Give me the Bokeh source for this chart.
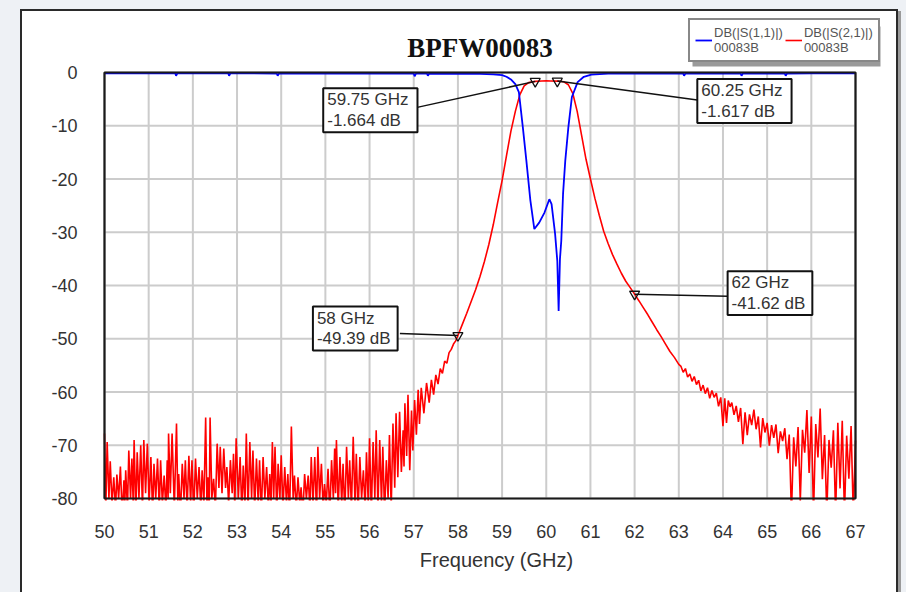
from bokeh.plotting import figure
from bokeh.models import Label, Legend, LegendItem, BoxAnnotation, FixedTicker, Range1d, Spacer
from bokeh.layouts import row, column
from bokeh.embed import file_html
from bokeh.resources import INLINE

# ---------------- data ----------------
chart_title = "BPFW00083"
x_label = "Frequency (GHz)"
x_ticks = [50, 51, 52, 53, 54, 55, 56, 57, 58, 59, 60, 61, 62, 63, 64, 65, 66, 67]
y_ticks = [0, -10, -20, -30, -40, -50, -60, -70, -80]

s11_name = "DB(|S(1,1)|)\n00083B"
s21_name = "DB(|S(2,1)|)\n00083B"

# S21 - lower noise floor
s21_floor_f = [
    50.00, 50.03, 50.06, 50.10, 50.13, 50.17, 50.21, 50.25, 50.28, 50.32, 50.36, 50.40, 50.44, 50.46,
    50.48, 50.52, 50.55, 50.59, 50.62, 50.65, 50.67, 50.71, 50.74, 50.78, 50.82, 50.86, 50.89, 50.93,
    50.97, 51.01, 51.05, 51.09, 51.12, 51.16, 51.20, 51.24, 51.27, 51.31, 51.35, 51.39, 51.42, 51.44,
    51.45, 51.49, 51.53, 51.58, 51.63, 51.66, 51.68, 51.72, 51.76, 51.80, 51.83, 51.87, 51.91, 51.95,
    51.98, 52.02, 52.06, 52.10, 52.14, 52.18, 52.21, 52.25, 52.29, 52.32, 52.34, 52.37, 52.39, 52.43,
    52.47, 52.51, 52.55, 52.59, 52.62, 52.66, 52.70, 52.74, 52.77, 52.81, 52.85, 52.89, 52.92, 52.95,
    52.98, 53.03, 53.07, 53.11, 53.14, 53.18, 53.21, 53.25, 53.29, 53.33, 53.36, 53.40, 53.44, 53.48,
    53.51, 53.55, 53.59, 53.63, 53.67, 53.71, 53.74, 53.77, 53.80, 53.83, 53.86, 53.90, 53.93, 53.97,
    54.00, 54.04, 54.08, 54.12, 54.15, 54.19, 54.23, 54.27, 54.30, 54.34, 54.38, 54.42, 54.45, 54.49,
    54.53, 54.57, 54.61, 54.65, 54.68, 54.72, 54.76, 54.80, 54.83, 54.87, 54.91, 54.95, 54.98, 55.02,
    55.06, 55.10, 55.14, 55.18, 55.21, 55.23, 55.25, 55.29, 55.33, 55.37, 55.40, 55.44, 55.48, 55.52,
    55.55, 55.59, 55.63, 55.67, 55.70, 55.74, 55.78, 55.82, 55.86, 55.90, 55.93, 55.97, 56.00, 56.04,
    56.08, 56.12, 56.15, 56.19, 56.23, 56.27, 56.30, 56.34, 56.38, 56.42, 56.45, 56.49, 56.53, 56.57,
    56.60, 56.64, 56.68, 56.72, 56.76, 56.78, 56.80, 56.84, 56.87, 56.91, 56.95, 56.98, 57.02, 57.06,
    57.10, 57.13, 57.17, 57.23, 57.29, 57.35, 57.40, 57.45, 57.50, 57.55, 57.60, 57.65, 57.70, 57.75,
    57.80, 57.85, 57.90, 57.95,
]
s21_floor_db = [
    -67.8, -82.0, -69.4, -80.0, -73.0, -81.0, -76.0, -82.0, -75.5, -80.0, -74.0, -83.0, -76.6, -81.0,
    -74.7, -82.0, -71.0, -80.0, -72.5, -81.0, -69.0, -83.0, -71.3, -80.0, -70.0, -82.0, -69.0, -79.0,
    -69.7, -81.0, -72.2, -83.0, -73.5, -80.0, -72.5, -82.0, -72.8, -81.0, -75.7, -82.0, -72.8, -80.0,
    -67.8, -79.0, -67.8, -82.0, -65.9, -81.0, -75.4, -83.0, -73.5, -80.0, -72.8, -82.0, -72.0, -81.0,
    -72.8, -83.0, -72.5, -80.0, -74.1, -82.0, -74.7, -81.0, -64.8, -82.0, -76.0, -83.0, -64.8, -80.0,
    -76.3, -82.0, -69.7, -78.0, -70.3, -79.0, -70.6, -78.0, -74.1, -81.0, -72.8, -79.0, -71.6, -82.0,
    -68.7, -80.0, -72.2, -83.0, -73.8, -81.0, -67.8, -82.0, -69.4, -80.0, -71.0, -82.0, -72.5, -81.0,
    -72.8, -83.0, -72.2, -80.0, -74.1, -82.0, -75.4, -81.0, -69.4, -80.0, -70.3, -83.0, -73.5, -80.0,
    -71.9, -82.0, -74.1, -81.0, -75.4, -83.0, -66.5, -80.0, -75.7, -82.0, -76.0, -81.0, -77.9, -83.0,
    -75.4, -80.0, -75.7, -82.0, -72.2, -81.0, -72.2, -83.0, -70.3, -80.0, -73.5, -82.0, -77.3, -81.0,
    -74.4, -83.0, -72.8, -80.0, -70.6, -79.0, -69.0, -82.0, -72.2, -81.0, -73.5, -83.0, -70.3, -80.0,
    -72.8, -82.0, -68.4, -81.0, -71.6, -83.0, -72.2, -80.0, -74.7, -82.0, -71.3, -81.0, -68.7, -83.0,
    -69.4, -80.0, -67.2, -82.0, -69.0, -81.0, -70.3, -83.0, -72.8, -80.0, -68.1, -82.0, -65.9, -78.0,
    -64.0, -76.0, -63.7, -75.0, -67.2, -74.0, -62.1, -72.0, -60.5, -74.7, -63.5, -71.0, -61.5, -68.0,
    -59.6, -66.0, -59.2, -64.0, -58.3, -62.0, -57.7, -60.5, -56.8, -58.5, -55.6, -56.5, -54.2, -54.6,
    -52.6, -52.0, -51.0, -50.4,
]

# S21 - pass band skirts
s21_band_f = [
    58.00, 58.10, 58.20, 58.30, 58.40, 58.50, 58.60, 58.70, 58.80, 58.90, 59.00, 59.10, 59.20, 59.30,
    59.40, 59.50, 59.60, 59.75, 59.90, 60.00, 60.10, 60.25, 60.40, 60.50, 60.60, 60.70, 60.80, 60.90,
    61.00, 61.10, 61.20, 61.30, 61.40, 61.50, 61.60, 61.70, 61.80, 61.90, 62.00, 62.10, 62.20, 62.30,
    62.40, 62.50, 62.60, 62.70, 62.80, 62.90, 63.00,
]
s21_band_db = [
    -49.39, -47.3, -45.2, -43.0, -40.8, -38.3, -35.5, -32.3, -28.6, -24.4, -20.3, -15.6, -11.0, -7.3,
    -4.2, -2.5, -1.9, -1.664, -1.60, -1.58, -1.59, -1.617, -1.75, -2.3, -3.9, -7.3, -11.8, -16.3,
    -20.0, -23.6, -26.8, -29.8, -32.1, -34.2, -36.0, -37.7, -39.2, -40.4, -41.62, -42.9, -44.2, -45.5,
    -46.9, -48.3, -49.6, -51.0, -52.4, -53.5, -54.8,
]

# S21 - upper noisy tail
s21_tail_f = [
    63.05, 63.10, 63.15, 63.20, 63.25, 63.30, 63.35, 63.40, 63.45, 63.50, 63.55, 63.60, 63.65, 63.70,
    63.75, 63.80, 63.85, 63.90, 63.95, 64.00, 64.04, 64.08, 64.12, 64.16, 64.20, 64.25, 64.30, 64.35,
    64.40, 64.45, 64.50, 64.55, 64.60, 64.65, 64.70, 64.75, 64.80, 64.85, 64.90, 64.95, 65.00, 65.05,
    65.10, 65.15, 65.20, 65.25, 65.30, 65.35, 65.40, 65.45, 65.50, 65.55, 65.60, 65.65, 65.70, 65.75,
    65.80, 65.85, 65.90, 65.95, 66.00, 66.05, 66.10, 66.15, 66.20, 66.25, 66.30, 66.35, 66.40, 66.45,
    66.50, 66.55, 66.60, 66.65, 66.70, 66.75, 66.80, 66.85, 66.90, 66.95, 67.00,
]
s21_tail_db = [
    -55.2, -56.3, -55.6, -57.2, -56.6, -58.0, -57.1, -58.6, -57.8, -59.8, -58.7, -60.3, -59.2, -61.2,
    -59.7, -61.0, -60.2, -62.7, -61.0, -66.4, -61.2, -65.8, -61.6, -62.8, -62.0, -64.3, -62.6, -65.6,
    -63.0, -69.8, -63.8, -68.1, -64.2, -66.2, -63.3, -67.0, -64.6, -70.4, -64.9, -67.6, -65.8, -70.1,
    -66.2, -68.6, -66.1, -71.5, -67.4, -69.2, -66.8, -72.6, -68.0, -83.0, -68.5, -74.0, -66.6, -80.5,
    -67.1, -71.4, -63.4, -75.2, -64.6, -83.0, -66.0, -72.3, -63.1, -76.4, -68.1, -83.0, -69.0, -74.2,
    -67.2, -83.0, -65.8, -78.1, -65.4, -83.0, -68.2, -76.3, -66.4, -83.0, -69.1,
]

# S11
s11_f = [
    50.00, 51.60, 51.62, 51.65, 52.80, 52.82, 52.85, 53.90, 53.92, 53.95, 57.00, 57.02, 57.05, 57.30,
    57.32, 57.35, 58.50, 58.80, 59.00, 59.10, 59.20, 59.30, 59.38, 59.47, 59.55, 59.64, 59.73, 59.84,
    59.96, 60.07, 60.12, 60.20, 60.25, 60.28, 60.31, 60.34, 60.38, 60.43, 60.50, 60.58, 60.71, 60.85,
    61.02, 61.40, 63.10, 63.12, 63.15, 64.40, 64.42, 64.45, 65.40, 65.42, 65.45, 66.00, 67.00,
]
s11_db = [
    -0.15, -0.15, -0.6, -0.15, -0.15, -0.6, -0.15, -0.2, -0.6, -0.2, -0.2, -0.7, -0.2, -0.2,
    -0.6, -0.2, -0.25, -0.35, -0.5, -0.8, -1.3, -2.2, -3.7, -10.3, -16.6, -24.0, -29.4, -28.2,
    -26.3, -23.8, -24.7, -30.3, -35.4, -44.8, -35.0, -31.6, -22.8, -16.6, -10.3, -4.6, -1.8, -0.8,
    -0.4, -0.2, -0.2, -0.6, -0.2, -0.2, -0.6, -0.2, -0.2, -0.6, -0.2, -0.15, -0.15,
]

# markers
marker_f = [59.75, 60.25, 58.0, 62.0]
marker_db = [-1.664, -1.617, -49.39, -41.62]

s21_f = s21_floor_f + s21_band_f + s21_tail_f
s21_db = s21_floor_db + s21_band_db + s21_tail_db

# ---------------- layout constants (pixels) ----------------
PLOT_W, PLOT_H = 751, 426          # size of the 50..67 GHz x 0..-80 dB area
PAD_L, PAD_R, PAD_T, PAD_B = 2, 35, 57, 2   # frame extends beyond the plot area
PX_X = PLOT_W / (x_ticks[-1] - x_ticks[0])
PX_Y = PLOT_H / (y_ticks[0] - y_ticks[-1])
FIG_W, FIG_H = 874, 581
BL, BT = 80, 4
FRAME_W = PAD_L + PLOT_W + PAD_R
FRAME_H = PAD_T + PLOT_H + PAD_B
BR = FIG_W - BL - FRAME_W
BB = FIG_H - BT - FRAME_H

# readout box top-left and leader end, relative to marker (px, right / down)
box_dx = [-212, 140, -145, 93]
box_dy = [7, -2, -29, -23]
box_pad_r = [9, 9, 7, 7]
lead_dx = [-118, 140, -58, 93]
lead_dy = [26, 19, -2, 2]

TXT = "#333333"
SANS = "Liberation Sans"
GRAY = "#eef1f5"
DARK = "#2a2a2a"
SHADOW = "#9a9a9a"

p = figure(frame_width=FRAME_W, frame_height=FRAME_H,
           x_range=Range1d(x_ticks[0] - PAD_L / PX_X, x_ticks[-1] + PAD_R / PX_X),
           y_range=Range1d(y_ticks[-1] - PAD_B / PX_Y, y_ticks[0] + PAD_T / PX_Y),
           output_backend="svg", toolbar_location=None,
           min_border_left=BL, min_border_right=BR, min_border_top=BT, min_border_bottom=BB,
           border_fill_color="white", background_fill_color="white")
p.outline_line_color = None
p.grid.visible = False

p.xaxis.ticker = FixedTicker(ticks=x_ticks)
p.yaxis.ticker = FixedTicker(ticks=y_ticks)
p.yaxis.major_label_overrides = {t: str(t) for t in y_ticks}
for ax in p.axis:
    ax.axis_line_color = None
    ax.major_tick_line_color = None
    ax.minor_tick_line_color = None
    ax.major_tick_out = 0
    ax.major_tick_in = 0
    ax.major_label_text_font = SANS
    ax.major_label_text_font_size = "18px"
    ax.major_label_text_color = TXT
p.xaxis.major_label_standoff = 24
p.yaxis.major_label_standoff = 25
p.xaxis.axis_label = x_label
p.xaxis.axis_label_text_font = SANS
p.xaxis.axis_label_text_font_style = "normal"
p.xaxis.axis_label_text_font_size = "20px"
p.xaxis.axis_label_text_color = TXT
p.xaxis.axis_label_standoff = 8

# grid lines inside the plot area only
p.segment(x0=x_ticks, y0=[y_ticks[-1]] * len(x_ticks), x1=x_ticks, y1=[y_ticks[0]] * len(x_ticks),
          line_color="#cccccc", line_width=2)
p.segment(x0=[x_ticks[0]] * len(y_ticks), y0=y_ticks, x1=[x_ticks[-1]] * len(y_ticks), y1=y_ticks,
          line_color="#cccccc", line_width=2)

r21 = p.line(s21_f, s21_db, line_color="#ff0000", line_width=1.6)
r11 = p.line(s11_f, s11_db, line_color="#0000ff", line_width=1.8)

# plot area outline
p.quad(left=[x_ticks[0]], right=[x_ticks[-1]], bottom=[y_ticks[-1]], top=[y_ticks[0]],
       fill_color=None, line_color="#1a1a1a", line_width=2.2)

# leader lines and marker triangles
lx = [f + dx / PX_X for f, dx in zip(marker_f, lead_dx)]
ly = [d - dy / PX_Y for d, dy in zip(marker_db, lead_dy)]
p.segment(x0=marker_f, y0=marker_db, x1=lx, y1=ly, line_color="#111111", line_width=1.5)
p.scatter(marker_f, marker_db, marker="inverted_triangle", size=10, fill_color=None,
          line_color="#111111", line_width=1.3)

# title
p.add_layout(Label(x=(x_ticks[0] + x_ticks[-1]) / 2, y=y_ticks[0], y_offset=25, text=chart_title,
                   text_align="center", text_baseline="middle", text_font="Liberation Serif",
                   text_font_style="bold", text_font_size="27px", text_color="#111111"))

# marker readouts
for f, d, dx, dy, pr in zip(marker_f, marker_db, box_dx, box_dy, box_pad_r):
    txt = f"{f:g} GHz\n{d:g} dB"
    common = dict(x=f, y=d, text=txt, text_font=SANS, text_font_size="17px",
                  text_align="left", text_baseline="top", text_line_height=1.1,
                  padding=dict(left=4, right=pr, top=2, bottom=2))
    p.add_layout(Label(x_offset=dx + 4, y_offset=-dy - 4, text_alpha=0,
                       background_fill_color=SHADOW, **common))
    p.add_layout(Label(x_offset=dx, y_offset=-dy, text_color=TXT,
                       background_fill_color="white", border_line_color="#111111",
                       border_line_width=2, **common))

# legend with shadow (inside the frame, above the plot area)
LEG_X, LEG_Y, LEG_W, LEG_H = 586, 438, 188, 40
p.add_layout(BoxAnnotation(left=LEG_X + 4, right=LEG_X + 4 + LEG_W, top=LEG_Y - 4 + LEG_H,
                           bottom=LEG_Y - 4,
                           left_units="screen", right_units="screen", top_units="screen",
                           bottom_units="screen", fill_color=SHADOW, fill_alpha=1, line_color=None))
legend = Legend(items=[LegendItem(label=s11_name, renderers=[r11]),
                       LegendItem(label=s21_name, renderers=[r21])],
                orientation="horizontal", location=(LEG_X, LEG_Y),
                label_text_font=SANS, label_text_font_size="13px", label_text_color="#555555",
                label_text_line_height=1.15,
                glyph_width=17, glyph_height=12, label_standoff=2, spacing=2,
                padding=5, margin=0, border_line_color="#111111", border_line_width=2,
                background_fill_color="white", background_fill_alpha=1)
p.add_layout(legend)


def block(w, h, color):
    return Spacer(width=w, height=h, styles={"background-color": color})


page = column(
    block(906, 9, GRAY),
    row(block(20, 2, GRAY), block(878, 2, DARK), block(8, 2, GRAY)),
    row(block(20, FIG_H, GRAY), block(2, FIG_H, DARK), p, block(2, FIG_H, DARK),
        block(3, FIG_H, SHADOW), block(5, FIG_H, GRAY)),
)

open("out.html", "w").write(file_html(page, INLINE))
